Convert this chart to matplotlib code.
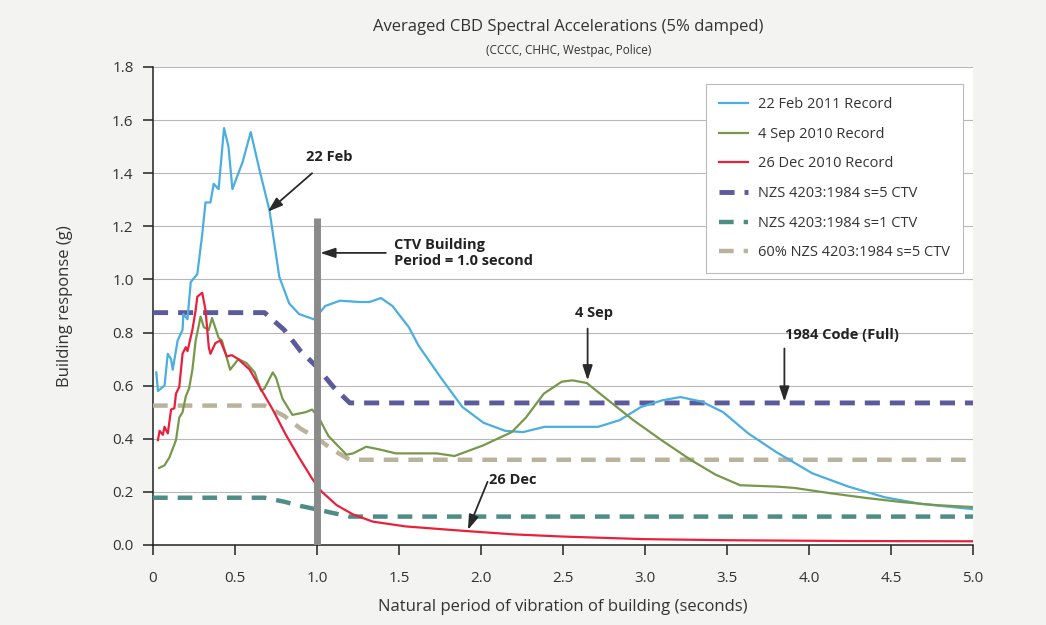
import matplotlib
matplotlib.use("Agg")
import matplotlib.pyplot as plt

plt.rcParams['font.family'] = ['Open Sans', 'DejaVu Sans']

# 22 Feb 2011 record (period s, response g)
feb_t = [0.02, 0.03, 0.07, 0.09, 0.11, 0.12, 0.15, 0.18, 0.185, 0.21, 0.23, 0.27,
         0.30, 0.32, 0.35, 0.37, 0.40, 0.433, 0.46, 0.484, 0.545, 0.596, 0.65, 0.71,
         0.77, 0.83, 0.89, 0.98, 1.01, 1.05, 1.14, 1.26, 1.32, 1.39, 1.46, 1.56,
         1.62, 1.755, 1.886, 2.016, 2.147, 2.256, 2.387, 2.54, 2.714, 2.845, 2.976,
         3.107, 3.216, 3.346, 3.477, 3.63, 3.80, 4.02, 4.24, 4.46, 4.68, 5.0]
feb_g = [0.65, 0.58, 0.60, 0.72, 0.70, 0.66, 0.77, 0.81, 0.87, 0.85, 0.99, 1.02,
         1.17, 1.29, 1.29, 1.36, 1.34, 1.57, 1.50, 1.34, 1.44, 1.555, 1.41, 1.26,
         1.01, 0.91, 0.87, 0.85, 0.87, 0.90, 0.92, 0.915, 0.915, 0.93, 0.90, 0.82,
         0.75, 0.63, 0.52, 0.46, 0.43, 0.425, 0.445, 0.445, 0.445, 0.47, 0.52,
         0.545, 0.557, 0.54, 0.50, 0.42, 0.35, 0.27, 0.22, 0.18, 0.155, 0.135]

# 4 Sep 2010 record
sep_t = [0.037, 0.07, 0.10, 0.14, 0.16, 0.18, 0.20, 0.22, 0.24, 0.26, 0.29, 0.31,
         0.34, 0.36, 0.40, 0.42, 0.47, 0.52, 0.57, 0.62, 0.66, 0.68, 0.73, 0.75,
         0.79, 0.85, 0.93, 0.97, 1.01, 1.07, 1.18, 1.22, 1.30, 1.38, 1.48, 1.62,
         1.73, 1.838, 2.013, 2.187, 2.274, 2.383, 2.492, 2.558, 2.645, 2.776, 2.929,
         3.10, 3.28, 3.43, 3.58, 3.80, 3.91, 4.13, 4.35, 4.56, 4.78, 5.0]
sep_g = [0.29, 0.30, 0.33, 0.395, 0.48, 0.50, 0.56, 0.59, 0.66, 0.77, 0.86, 0.82,
         0.81, 0.855, 0.78, 0.77, 0.66, 0.70, 0.685, 0.65, 0.58, 0.59, 0.65, 0.63,
         0.55, 0.49, 0.50, 0.51, 0.48, 0.41, 0.34, 0.345, 0.37, 0.36, 0.345, 0.345,
         0.345, 0.335, 0.375, 0.425, 0.48, 0.57, 0.615, 0.62, 0.61, 0.545, 0.47,
         0.395, 0.32, 0.265, 0.225, 0.22, 0.215, 0.195, 0.177, 0.162, 0.15, 0.143]

# 26 Dec 2010 record
dec_t = [0.03, 0.04, 0.06, 0.07, 0.09, 0.11, 0.13, 0.14, 0.16, 0.18, 0.20, 0.21,
         0.24, 0.26, 0.27, 0.30, 0.32, 0.34, 0.35, 0.38, 0.41, 0.45, 0.48, 0.52,
         0.59, 0.65, 0.73, 0.81, 0.89, 0.97, 1.03, 1.12, 1.22, 1.34, 1.54, 1.75,
         1.90, 2.2, 2.49, 3.0, 3.5, 4.24, 5.0]
dec_g = [0.395, 0.43, 0.415, 0.445, 0.42, 0.51, 0.515, 0.57, 0.595, 0.72, 0.745, 0.73,
         0.81, 0.885, 0.935, 0.95, 0.885, 0.745, 0.72, 0.76, 0.77, 0.71, 0.715, 0.70,
         0.66, 0.595, 0.51, 0.415, 0.33, 0.25, 0.20, 0.15, 0.115, 0.088, 0.07, 0.06,
         0.053, 0.04, 0.032, 0.022, 0.018, 0.015, 0.014]

# NZS 4203:1984 design spectra
code_t = [0.0, 0.68, 0.8, 0.9, 1.0, 1.1, 1.2, 5.0]
s5_g = [0.875, 0.875, 0.81, 0.73, 0.67, 0.595, 0.535, 0.535]
s1_g = [0.178, 0.178, 0.163, 0.147, 0.134, 0.12, 0.107, 0.107]
s5_60_g = [0.525, 0.525, 0.486, 0.438, 0.402, 0.357, 0.321, 0.321]

ctv_period = 1.0
ctv_bar_top = 1.23

x_ticks = [0, 0.5, 1.0, 1.5, 2.0, 2.5, 3.0, 3.5, 4.0, 4.5, 5.0]
x_ticklabels = ['0', '0.5', '1.0', '1.5', '2.0', '2.5', '3.0', '3.5', '4.0', '4.5', '5.0']
y_ticks = [0.0, 0.2, 0.4, 0.6, 0.8, 1.0, 1.2, 1.4, 1.6, 1.8]

fig = plt.figure(figsize=(10.46, 6.25), dpi=100, facecolor='#f3f3f1')
ax = fig.add_axes([0.1463, 0.128, 0.7839, 0.7648])
ax.set_facecolor('white')

# grid
for yv in y_ticks[1:]:
    ax.axhline(yv, color='#b8b8b8', lw=0.8, zorder=0)

ax.plot(feb_t, feb_g, color='#4aaee0', lw=1.6, label='22 Feb 2011 Record', zorder=4)
ax.plot(sep_t, sep_g, color='#77984a', lw=1.6, label='4 Sep 2010 Record', zorder=4)
ax.plot(dec_t, dec_g, color='#e8203c', lw=1.6, label='26 Dec 2010 Record', zorder=4)
ax.plot(code_t, s5_g, color='#5b5b9b', lw=3.5, ls=(0, (3.1, 2.05)),
        label='NZS 4203:1984 s=5 CTV', zorder=3)
ax.plot(code_t, s1_g, color='#4e8c86', lw=3.2, ls=(0, (3.3, 2.25)),
        label='NZS 4203:1984 s=1 CTV', zorder=3)
ax.plot(code_t, s5_60_g, color='#b9b29c', lw=3.2, ls=(0, (3.3, 2.25)),
        label='60% NZS 4203:1984 s=5 CTV', zorder=3)

# CTV building period bar
ax.plot([ctv_period, ctv_period], [0, ctv_bar_top], color='#8a8a8a', lw=5,
        solid_capstyle='butt', zorder=5)

arrow = dict(arrowstyle='-|>,head_length=0.9,head_width=0.3', color='#2a2a2a', lw=1.3,
             shrinkA=0, shrinkB=0)
note = dict(fontsize=10.5, fontweight='bold', color='#222222')

ax.annotate('', xy=(0.70, 1.255), xytext=(0.97, 1.40), arrowprops=arrow, zorder=6)
ax.text(1.075, 1.46, '22 Feb', ha='center', va='center', **note)

ax.annotate('', xy=(1.02, 1.10), xytext=(1.42, 1.10), arrowprops=arrow, zorder=6)
ax.text(1.47, 1.10, 'CTV Building\nPeriod = 1.0 second', ha='left', va='center',
        linespacing=1.2, **note)

ax.annotate('', xy=(2.65, 0.62), xytext=(2.65, 0.815), arrowprops=arrow, zorder=6)
ax.text(2.69, 0.875, '4 Sep', ha='center', va='center', **note)

ax.annotate('', xy=(3.85, 0.54), xytext=(3.85, 0.74), arrowprops=arrow, zorder=6)
ax.text(4.2, 0.79, '1984 Code (Full)', ha='center', va='center', **note)

ax.annotate('', xy=(1.92, 0.057), xytext=(2.04, 0.238), arrowprops=arrow, zorder=6)
ax.text(2.05, 0.245, '26 Dec', ha='left', va='center', **note)

ax.set_xlim(0, 5.0)
ax.set_ylim(0, 1.8)
ax.set_xticks(x_ticks)
ax.set_xticklabels(x_ticklabels)
ax.set_yticks(y_ticks)
ax.set_yticklabels([f'{v:.1f}' for v in y_ticks])
ax.tick_params(axis='both', direction='out', length=7, width=1.1, colors='#222222',
               labelsize=11, labelcolor='#333333', pad=7)
ax.tick_params(axis='x', pad=12)
for side in ['top', 'right']:
    ax.spines[side].set_visible(False)
for side in ['left', 'bottom']:
    ax.spines[side].set_color('#222222')
    ax.spines[side].set_linewidth(1.1)

ax.set_xlabel('Natural period of vibration of building (seconds)', fontsize=12,
              color='#333333', labelpad=9)
ax.set_ylabel('Building response (g)', fontsize=12, color='#333333', labelpad=28)

fig.text(0.5435, 0.957, 'Averaged CBD Spectral Accelerations (5% damped)',
         ha='center', va='center', fontsize=12, color='#333333')
fig.text(0.5435, 0.919, '(CCCC, CHHC, Westpac, Police)', ha='center', va='center',
         fontsize=8.5, color='#333333')

leg = ax.legend(loc='upper right', bbox_to_anchor=(0.988, 0.964), borderaxespad=0,
                fontsize=10.5, handlelength=2.0, handletextpad=0.7, labelspacing=1.0,
                borderpad=0.9, fancybox=False, framealpha=1, edgecolor='#bbbbbb',
                labelcolor='#333333')
leg.get_frame().set_linewidth(0.8)

fig.savefig('out.png', dpi=100, facecolor=fig.get_facecolor())
